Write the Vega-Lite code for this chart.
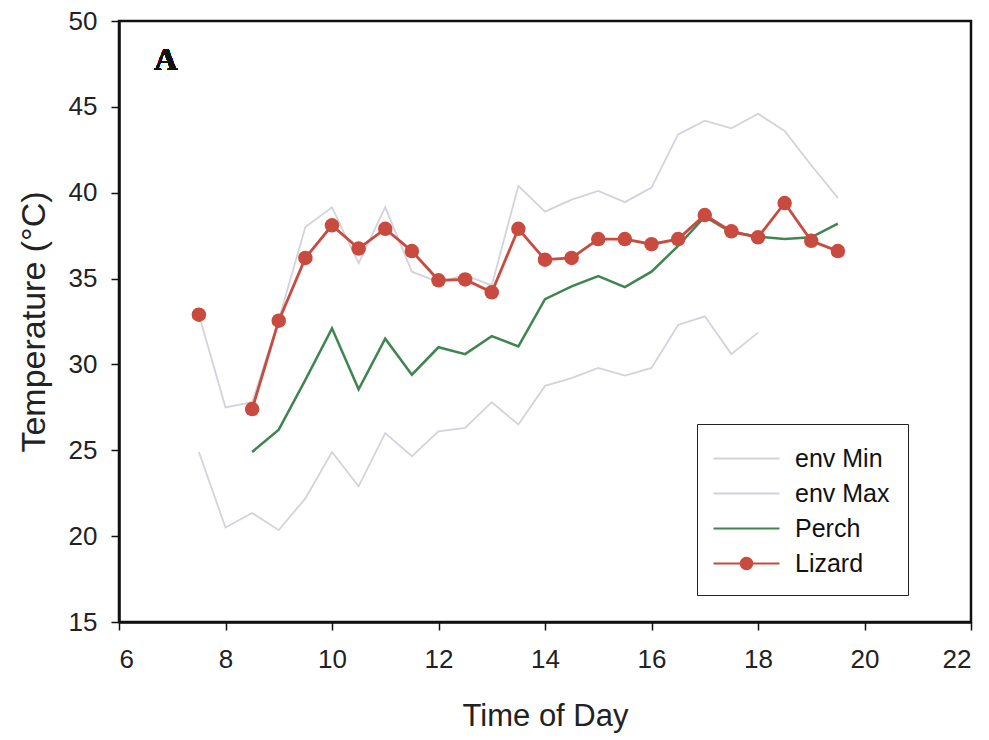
{
  "$schema": "https://vega.github.io/schema/vega-lite/v6.json",
  "autosize": {"type": "none"},
  "padding": {"left": 119, "top": 21, "right": 18, "bottom": 118},
  "width": 852,
  "height": 601,
  "background": "white",
  "config": {
    "view": {"stroke": "#111", "strokeWidth": 2.5},
    "font": "Liberation Sans",
    "axis": {
      "grid": false,
      "domainColor": "#111",
      "domainWidth": 2.5,
      "tickColor": "#111",
      "tickWidth": 1.5,
      "tickSize": 8,
      "labelFont": "Liberation Sans",
      "labelFontSize": 26,
      "labelColor": "#222",
      "titleFont": "Liberation Sans",
      "titleFontSize": 31,
      "titleFontWeight": "normal",
      "titleColor": "#222"
    }
  },
  "data": {
    "values": [
      {"time": 7.5, "series": "env Min", "temp": 24.9, "seg": 1},
      {"time": 8, "series": "env Min", "temp": 20.5, "seg": 1},
      {"time": 8.5, "series": "env Min", "temp": 21.35, "seg": 1},
      {"time": 9, "series": "env Min", "temp": 20.35, "seg": 1},
      {"time": 9.5, "series": "env Min", "temp": 22.2, "seg": 1},
      {"time": 10, "series": "env Min", "temp": 24.9, "seg": 1},
      {"time": 10.5, "series": "env Min", "temp": 22.9, "seg": 1},
      {"time": 11, "series": "env Min", "temp": 26.0, "seg": 1},
      {"time": 11.5, "series": "env Min", "temp": 24.65, "seg": 1},
      {"time": 12, "series": "env Min", "temp": 26.1, "seg": 1},
      {"time": 12.5, "series": "env Min", "temp": 26.3, "seg": 1},
      {"time": 13, "series": "env Min", "temp": 27.8, "seg": 1},
      {"time": 13.5, "series": "env Min", "temp": 26.5, "seg": 1},
      {"time": 14, "series": "env Min", "temp": 28.75, "seg": 1},
      {"time": 14.5, "series": "env Min", "temp": 29.2, "seg": 1},
      {"time": 15, "series": "env Min", "temp": 29.8, "seg": 1},
      {"time": 15.5, "series": "env Min", "temp": 29.35, "seg": 1},
      {"time": 16, "series": "env Min", "temp": 29.8, "seg": 1},
      {"time": 16.5, "series": "env Min", "temp": 32.3, "seg": 1},
      {"time": 17, "series": "env Min", "temp": 32.8, "seg": 1},
      {"time": 17.5, "series": "env Min", "temp": 30.6, "seg": 1},
      {"time": 18, "series": "env Min", "temp": 31.85, "seg": 1},
      {"time": 7.5, "series": "env Max", "temp": 32.9, "seg": 1},
      {"time": 8, "series": "env Max", "temp": 27.5, "seg": 1},
      {"time": 8.5, "series": "env Max", "temp": 27.8, "seg": 1},
      {"time": 9, "series": "env Max", "temp": 32.6, "seg": 1},
      {"time": 9.5, "series": "env Max", "temp": 38.0, "seg": 1},
      {"time": 10, "series": "env Max", "temp": 39.15, "seg": 1},
      {"time": 10.5, "series": "env Max", "temp": 35.9, "seg": 1},
      {"time": 11, "series": "env Max", "temp": 39.15, "seg": 1},
      {"time": 11.5, "series": "env Max", "temp": 35.4, "seg": 1},
      {"time": 12, "series": "env Max", "temp": 34.8, "seg": 1},
      {"time": 12.5, "series": "env Max", "temp": 35.2, "seg": 1},
      {"time": 13, "series": "env Max", "temp": 34.6, "seg": 1},
      {"time": 13.5, "series": "env Max", "temp": 40.4, "seg": 1},
      {"time": 14, "series": "env Max", "temp": 38.9, "seg": 1},
      {"time": 14.5, "series": "env Max", "temp": 39.6, "seg": 1},
      {"time": 15, "series": "env Max", "temp": 40.1, "seg": 1},
      {"time": 15.5, "series": "env Max", "temp": 39.45, "seg": 1},
      {"time": 16, "series": "env Max", "temp": 40.3, "seg": 1},
      {"time": 16.5, "series": "env Max", "temp": 43.4, "seg": 1},
      {"time": 17, "series": "env Max", "temp": 44.2, "seg": 1},
      {"time": 17.5, "series": "env Max", "temp": 43.75, "seg": 1},
      {"time": 18, "series": "env Max", "temp": 44.6, "seg": 1},
      {"time": 18.5, "series": "env Max", "temp": 43.6, "seg": 1},
      {"time": 19, "series": "env Max", "temp": 41.6, "seg": 1},
      {"time": 19.5, "series": "env Max", "temp": 39.7, "seg": 1},
      {"time": 8.5, "series": "Perch", "temp": 24.9, "seg": 1},
      {"time": 9, "series": "Perch", "temp": 26.2, "seg": 1},
      {"time": 9.5, "series": "Perch", "temp": 29.1, "seg": 1},
      {"time": 10, "series": "Perch", "temp": 32.1, "seg": 1},
      {"time": 10.5, "series": "Perch", "temp": 28.55, "seg": 1},
      {"time": 11, "series": "Perch", "temp": 31.5, "seg": 1},
      {"time": 11.5, "series": "Perch", "temp": 29.4, "seg": 1},
      {"time": 12, "series": "Perch", "temp": 31.0, "seg": 1},
      {"time": 12.5, "series": "Perch", "temp": 30.6, "seg": 1},
      {"time": 13, "series": "Perch", "temp": 31.65, "seg": 1},
      {"time": 13.5, "series": "Perch", "temp": 31.05, "seg": 1},
      {"time": 14, "series": "Perch", "temp": 33.8, "seg": 1},
      {"time": 14.5, "series": "Perch", "temp": 34.55, "seg": 1},
      {"time": 15, "series": "Perch", "temp": 35.15, "seg": 1},
      {"time": 15.5, "series": "Perch", "temp": 34.5, "seg": 1},
      {"time": 16, "series": "Perch", "temp": 35.4, "seg": 1},
      {"time": 16.5, "series": "Perch", "temp": 36.9, "seg": 1},
      {"time": 17, "series": "Perch", "temp": 38.6, "seg": 1},
      {"time": 17.5, "series": "Perch", "temp": 37.7, "seg": 1},
      {"time": 18, "series": "Perch", "temp": 37.45, "seg": 1},
      {"time": 18.5, "series": "Perch", "temp": 37.3, "seg": 1},
      {"time": 19, "series": "Perch", "temp": 37.4, "seg": 1},
      {"time": 19.5, "series": "Perch", "temp": 38.2, "seg": 1},
      {"time": 7.5, "series": "Lizard", "temp": 32.9, "seg": 0},
      {"time": 8.5, "series": "Lizard", "temp": 27.4, "seg": 1},
      {"time": 9, "series": "Lizard", "temp": 32.55, "seg": 1},
      {"time": 9.5, "series": "Lizard", "temp": 36.2, "seg": 1},
      {"time": 10, "series": "Lizard", "temp": 38.1, "seg": 1},
      {"time": 10.5, "series": "Lizard", "temp": 36.75, "seg": 1},
      {"time": 11, "series": "Lizard", "temp": 37.9, "seg": 1},
      {"time": 11.5, "series": "Lizard", "temp": 36.6, "seg": 1},
      {"time": 12, "series": "Lizard", "temp": 34.9, "seg": 1},
      {"time": 12.5, "series": "Lizard", "temp": 34.95, "seg": 1},
      {"time": 13, "series": "Lizard", "temp": 34.2, "seg": 1},
      {"time": 13.5, "series": "Lizard", "temp": 37.9, "seg": 1},
      {"time": 14, "series": "Lizard", "temp": 36.1, "seg": 1},
      {"time": 14.5, "series": "Lizard", "temp": 36.2, "seg": 1},
      {"time": 15, "series": "Lizard", "temp": 37.3, "seg": 1},
      {"time": 15.5, "series": "Lizard", "temp": 37.3, "seg": 1},
      {"time": 16, "series": "Lizard", "temp": 37.0, "seg": 1},
      {"time": 16.5, "series": "Lizard", "temp": 37.3, "seg": 1},
      {"time": 17, "series": "Lizard", "temp": 38.7, "seg": 1},
      {"time": 17.5, "series": "Lizard", "temp": 37.75, "seg": 1},
      {"time": 18, "series": "Lizard", "temp": 37.4, "seg": 1},
      {"time": 18.5, "series": "Lizard", "temp": 39.4, "seg": 1},
      {"time": 19, "series": "Lizard", "temp": 37.2, "seg": 1},
      {"time": 19.5, "series": "Lizard", "temp": 36.6, "seg": 1}
    ]
  },
  "encoding": {
    "x": {
      "field": "time", "type": "quantitative",
      "scale": {"domain": [6, 22], "nice": false, "zero": false},
      "axis": {"title": "Time of Day", "values": [6, 8, 10, 12, 14, 16, 18, 20, 22], "labelPadding": 16, "titlePadding": 29}
    },
    "y": {
      "field": "temp", "type": "quantitative",
      "scale": {"domain": [15, 50], "nice": false, "zero": false},
      "axis": {"title": "Temperature (°C)", "titleFontSize": 34, "values": [15, 20, 25, 30, 35, 40, 45, 50], "labelPadding": 14, "titlePadding": 17}
    },
    "color": {
      "field": "series", "type": "nominal",
      "scale": {"domain": ["env Min", "env Max", "Perch", "Lizard"], "range": ["#d2d3dc", "#d2d3dc", "#3f8550", "#c94a3f"]},
      "legend": null
    }
  },
  "layer": [
    {
      "transform": [{"filter": {"field": "series", "oneOf": ["env Min", "env Max"]}}],
      "mark": {"type": "line", "strokeWidth": 1.8},
      "encoding": {
        "color": {
          "field": "series", "type": "nominal",
          "scale": {"domain": ["env Min", "env Max", "Perch", "Lizard"], "range": ["#d2d3dc", "#d2d3dc", "#3f8550", "#c94a3f"]},
          "legend": {
            "title": null,
            "orient": "none",
            "legendX": 578,
            "legendY": 403,
            "padding": 18,
            "rowPadding": 5,
            "symbolSize": 900,
            "symbolStrokeWidth": 2.2,
            "symbolOffset": 15,
            "labelOffset": 32,
            "labelFont": "Liberation Sans",
            "labelFontSize": 25,
            "labelColor": "#111",
            "strokeColor": "#222",
            "fillColor": "white",
            "labelExpr": "datum.label + '\u00a0\u00a0\u00a0'",
            "encode": {
              "symbols": {
                "update": {
                  "shape": {"signal": "datum.value === 'Lizard' ? 'M-2.2,0H2.2M0.38,0A0.38,0.38,0,1,1,-0.38,0A0.38,0.38,0,1,1,0.38,0Z' : 'M-2.2,0H2.2'"},
                  "fill": {"signal": "datum.value === 'Lizard' ? '#c94a3f' : 'transparent'"},
                  "stroke": {"scale": "color", "field": "value"}
                }
              }
            }
          }
        }
      }
    },
    {
      "transform": [{"filter": {"field": "series", "equal": "Perch"}}],
      "mark": {"type": "line", "strokeWidth": 2.5},
      "encoding": {}
    },
    {
      "transform": [{"filter": {"field": "series", "equal": "Lizard"}}],
      "mark": {"type": "line", "strokeWidth": 2.8},
      "encoding": {"detail": {"field": "seg", "type": "nominal"}}
    },
    {
      "transform": [{"filter": {"field": "series", "equal": "Lizard"}}],
      "mark": {"type": "circle", "size": 210, "opacity": 1},
      "encoding": {}
    },
    {
      "mark": {"type": "text", "text": "A", "font": "Liberation Serif", "fontWeight": "bold", "fontSize": 32, "color": "#111", "align": "center", "baseline": "alphabetic"},
      "encoding": {
        "x": {"datum": 6.88, "type": "quantitative"},
        "y": {"datum": 47.15, "type": "quantitative"},
        "color": {"value": "#111"}
      }
    }
  ]
}
